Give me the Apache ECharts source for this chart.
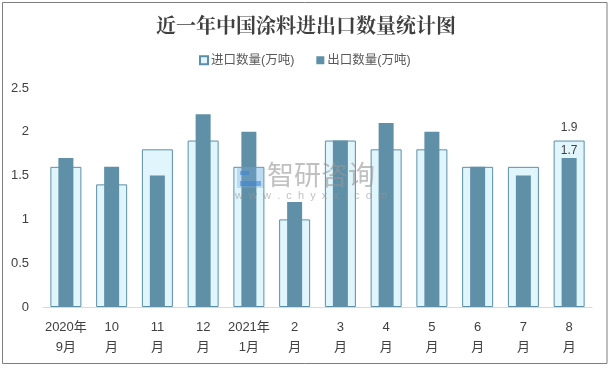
<!DOCTYPE html>
<html><head><meta charset="utf-8">
<style>html,body{margin:0;padding:0;background:#fff}#c{width:612px;height:368px}</style>
<script src="https://cdn.jsdelivr.net/npm/echarts@6/dist/echarts.min.js"></script>
</head><body><div id="c"></div>
<script>
const categories=['2020年\n9月','10\n月','11\n月','12\n月','2021年\n1月','2\n月','3\n月','4\n月','5\n月','6\n月','7\n月','8\n月'];
const importValues=[1.6,1.4,1.8,1.9,1.6,1.0,1.9,1.8,1.8,1.6,1.6,1.9];
const exportValues=[1.7,1.6,1.5,2.2,2.0,1.2,1.9,2.1,2.0,1.6,1.5,1.7];
const yTicks=[0,0.5,1,1.5,2,2.5];
const seriesNames=['进口数量(万吨)','出口数量(万吨)'];
const font='"Liberation Sans","Noto Sans CJK SC",sans-serif';
function mk(vals,dist){return vals.map((v,i)=>i===categories.length-1?{value:v,label:{show:true,position:'top',distance:dist,color:'#404040',fontSize:12,fontFamily:font,formatter:String(v)}}:v);}
const chart=echarts.init(document.getElementById('c'),null,{renderer:'canvas'});
chart.setOption({
 animation:false,backgroundColor:'#fff',
 title:{text:'近一年中国涂料进出口数量统计图',left:'center',top:10,textStyle:{fontFamily:'"Noto Serif CJK SC","Noto Sans CJK SC",serif',fontSize:20,fontWeight:'bold',color:'#404040'}},
 legend:{top:49,left:194,icon:'rect',itemWidth:8,itemHeight:8,itemGap:22,textStyle:{fontSize:12.5,color:'#595959',fontFamily:font,padding:[0,0,0,-2]},data:seriesNames},
 grid:{left:43,right:20,top:88,bottom:61},
 xAxis:[{type:'category',data:categories,axisLine:{lineStyle:{color:'#d9d9d9'}},axisTick:{show:false},axisLabel:{interval:0,color:'#404040',fontSize:13,lineHeight:20,margin:10,fontFamily:font}},
        {type:'category',data:categories,show:false}],
 yAxis:{type:'value',min:yTicks[0],max:yTicks[5],interval:0.5,axisLine:{show:false},axisTick:{show:false},splitLine:{show:false},axisLabel:{color:'#404040',fontSize:13,margin:14,fontFamily:font,formatter:v=>String(v)}},
 graphic:[
  {type:'rect',silent:true,z:-1,shape:{x:2.5,y:2.5,width:604.5,height:361},style:{fill:'none',stroke:'#7f7f7f',lineWidth:1}},
  {type:'rect',silent:true,z:20,shape:{x:237,y:167,width:27,height:21},style:{fill:'rgba(120,170,220,0.35)',stroke:'none'}},
  {type:'rect',silent:true,z:20,shape:{x:240,y:171,width:9,height:4},style:{fill:'rgba(60,130,210,0.55)',stroke:'none'}},
  {type:'rect',silent:true,z:20,shape:{x:240,y:181,width:21,height:5},style:{fill:'rgba(60,130,210,0.55)',stroke:'none'}},
  {type:'text',silent:true,z:20,left:267,top:161,style:{text:'智研咨询',fontSize:27,fill:'rgba(150,150,150,0.6)',fontFamily:'"Noto Sans CJK SC"'}},
  {type:'text',silent:true,z:20,left:235,top:190,style:{text:'w  w  w  .  c  h  y  x  x  .  c  o  m',fontSize:11,fill:'rgba(150,150,150,0.6)',fontFamily:font}}
 ],
 series:[
  {name:seriesNames[0],type:'bar',xAxisIndex:0,barWidth:31,data:mk(importValues,7),z:2,itemStyle:{color:'#e1f5fc',borderColor:'#5b8fa8',borderWidth:1}},
  {name:seriesNames[1],type:'bar',xAxisIndex:1,barWidth:15,data:mk(exportValues,1),z:3,itemStyle:{color:'#5f90a8'}}
 ]
});
</script></body></html>
